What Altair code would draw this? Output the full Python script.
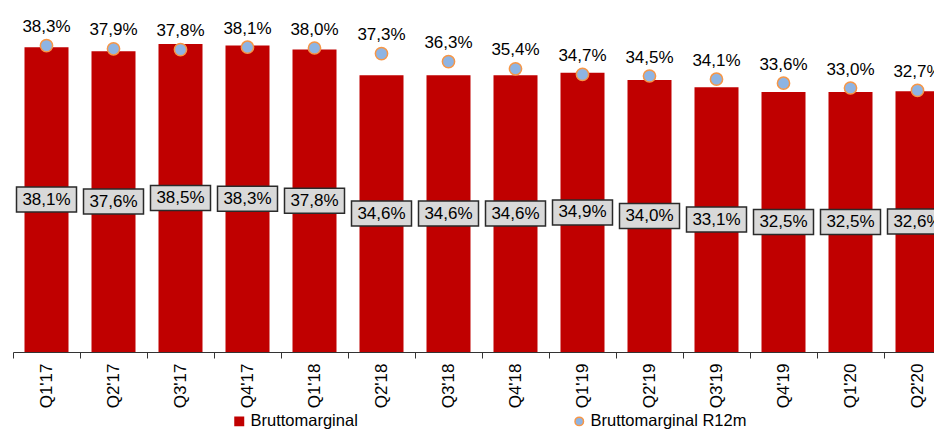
import altair as alt
import pandas as pd

quarters = ["Q1'17", "Q2'17", "Q3'17", "Q4'17", "Q1'18", "Q2'18", "Q3'18",
            "Q4'18", "Q1'19", "Q2'19", "Q3'19", "Q4'19", "Q1'20", "Q2'20"]
brutto = [38.1, 37.6, 38.5, 38.3, 37.8, 34.6, 34.6, 34.6, 34.9, 34.0, 33.1, 32.5, 32.5, 32.6]
r12m = [38.3, 37.9, 37.8, 38.1, 38.0, 37.3, 36.3, 35.4, 34.7, 34.5, 34.1, 33.6, 33.0, 32.7]
series_names = ["Bruttomarginal", "Bruttomarginal R12m"]

df = pd.DataFrame({"q": quarters, "b": brutto, "r": r12m,
                   "s1": series_names[0], "s2": series_names[1]})

FONT = "Liberation Sans"
RED = "#C00000"
BLUE = "#8EB4E3"
ORANGE = "#F79646"

xenc = alt.X("q:N", sort=quarters, title=None,
             scale=alt.Scale(paddingInner=0, paddingOuter=0),
             axis=alt.Axis(labelAngle=270, labelFontSize=17, labelFont=FONT,
                           labelColor="#000", labelPadding=5, domainColor="#333",
                           tickColor="#333", tickSize=6, tickBand="extent",
                           domainWidth=1, tickWidth=1))
yscale = alt.Scale(domain=[0, 43], nice=False, zero=True)

leg = alt.Legend(title=None, orient="none", legendX=218, legendY=405,
                 direction="horizontal", labelFont=FONT, labelFontSize=16.5,
                 labelColor="#000", symbolSize=72, labelOffset=3,
                 columnPadding=213, padding=0, symbolStrokeWidth=1.5)

color_sc = alt.Scale(domain=series_names, range=[RED, BLUE])
shape_sc = alt.Scale(domain=series_names, range=["square", "circle"])
stroke_sc = alt.Scale(domain=series_names, range=[RED, ORANGE])

base = alt.Chart(df).transform_calculate(
    bl="replace(format(datum.b, '.1f'), '.', ',') + '%'",
    rl="replace(format(datum.r, '.1f'), '.', ',') + '%'",
    mid="datum.b / 2",
)

bars = base.mark_bar(size=44).encode(
    x=xenc,
    y=alt.Y("b:Q", scale=yscale, axis=None),
    color=alt.Color("s1:N", scale=color_sc, legend=leg),
)

points = base.mark_point(filled=True, size=150, opacity=1, strokeWidth=1.5).encode(
    x=xenc,
    y=alt.Y("r:Q", scale=yscale, axis=None),
    color=alt.Color("s2:N", scale=color_sc, legend=leg),
    shape=alt.Shape("s2:N", scale=shape_sc, legend=leg),
    stroke=alt.Stroke("s2:N", scale=stroke_sc, legend=leg),
)

top_text = base.mark_text(font=FONT, fontSize=17, baseline="alphabetic",
                          dy=-13.5, color="#000").encode(
    x=xenc,
    y=alt.Y("r:Q", scale=yscale, axis=None),
    text="rl:N",
)

boxes = base.mark_point(shape="M-1,-0.417L1,-0.417L1,0.417L-1,0.417Z", size=3600,
                        filled=True, fill="#D9D9D9", stroke="#2a2a2a",
                        strokeWidth=1.5, opacity=1).encode(
    x=xenc,
    y=alt.Y("mid:Q", scale=yscale, axis=None),
)

box_text = base.mark_text(font=FONT, fontSize=17, baseline="middle",
                          color="#000").encode(
    x=xenc,
    y=alt.Y("mid:Q", scale=yscale, axis=None),
    text="bl:N",
)

chart = alt.layer(bars, points, top_text, boxes, box_text).properties(
    width=938, height=344,
    autosize=alt.AutoSizeParams(type="none"),
    padding={"left": 5, "top": 0, "right": -17, "bottom": 79},
).configure_view(stroke=None)

chart.save("out.html", embed_options={"renderer": "svg", "actions": False})
